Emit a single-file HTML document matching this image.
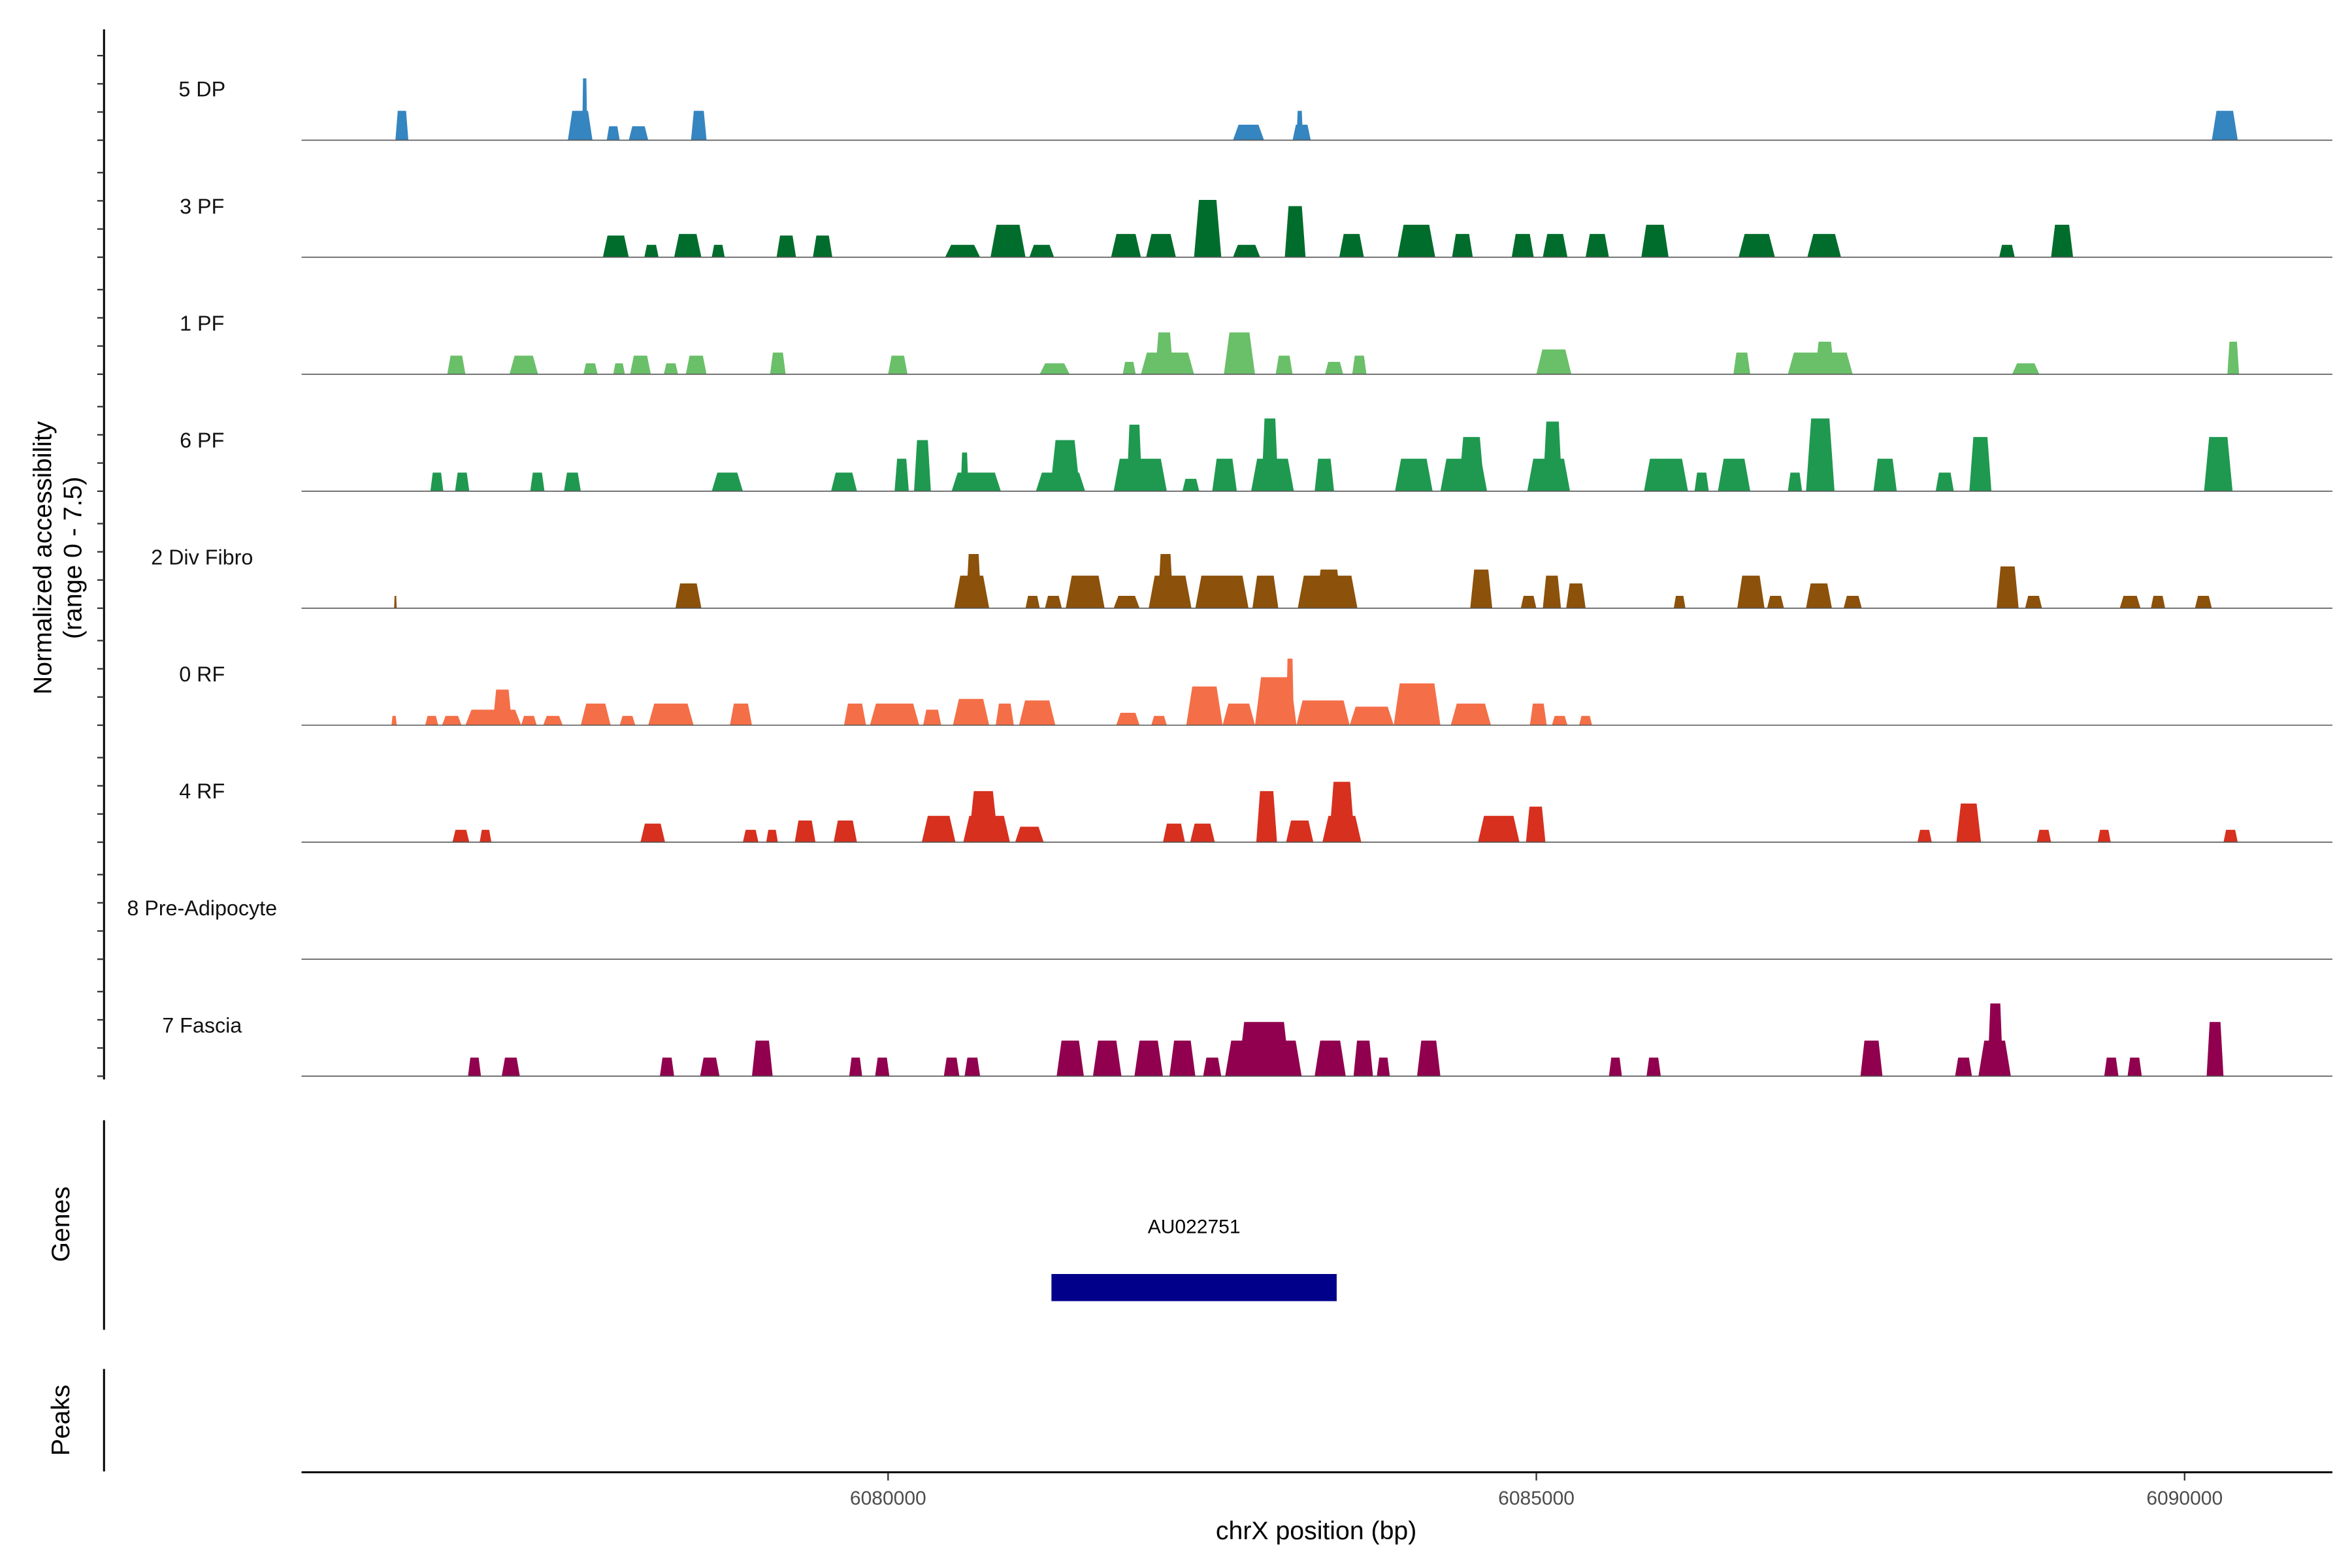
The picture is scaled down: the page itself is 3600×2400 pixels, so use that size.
<!DOCTYPE html>
<html><head><meta charset="utf-8"><style>
html,body{margin:0;padding:0;background:#fff;}
svg{display:block;font-family:"Liberation Sans",Arial,sans-serif;}
</style></head><body>
<svg id="chart" width="3600" height="2400" viewBox="0 0 1560 1040" xmlns="http://www.w3.org/2000/svg">
<rect x="0" y="0" width="1560" height="1040" fill="#fff"/>
<g id="tracks"></g>
<line x1="69" y1="19.5" x2="69" y2="716" stroke="#000" stroke-width="1.3"/>
<g id="yticks"></g>
<text transform="translate(34,370) rotate(-90)" text-anchor="middle" font-size="17" fill="#000">Normalized accessibility</text>
<text transform="translate(54,370) rotate(-90)" text-anchor="middle" font-size="17" fill="#000">(range 0 - 7.5)</text>
<line x1="69" y1="743" x2="69" y2="882" stroke="#000" stroke-width="1.3"/>
<text transform="translate(46,812) rotate(-90)" text-anchor="middle" font-size="17" fill="#000">Genes</text>
<g id="genes"></g>
<line x1="69" y1="908" x2="69" y2="976" stroke="#000" stroke-width="1.3"/>
<text transform="translate(46,942) rotate(-90)" text-anchor="middle" font-size="17" fill="#000">Peaks</text>
<line x1="200" y1="976.5" x2="1547" y2="976.5" stroke="#000" stroke-width="1.3"/>
<g id="xticks"></g>
<text x="873" y="1021" text-anchor="middle" font-size="17" fill="#000">chrX position (bp)</text>
</svg>
<script>
const trackNames = ["5 DP","3 PF","1 PF","6 PF","2 Div Fibro","0 RF","4 RF","8 Pre-Adipocyte","7 Fascia"];
const trackColors = ["#3585c0","#006d2c","#6abf69","#1f9950","#8c510a","#f46f47","#d7301f","#888888","#91004f"];
const xTicks = [6080000,6085000,6090000];
const geneNames = ["AU022751"];
const geneStarts = [6081260];
const geneEnds = [6083460];
// peaks per track: [start bp, end bp, normalized accessibility]
const peaksDP = [[6076200,6076300,1.9],[6077530,6077720,1.9],[6077640,6077680,4.0],[6077830,6077930,0.9],[6078000,6078150,0.9],[6078480,6078600,1.9],[6082660,6082900,1.0],[6083120,6083260,1.0],[6083150,6083200,1.9],[6090210,6090410,1.9]];
const peaksPF3 = [[6077800,6078000,1.4],[6078120,6078230,0.8],[6078350,6078560,1.5],[6078640,6078740,0.8],[6079140,6079290,1.4],[6079420,6079570,1.4],[6080440,6080710,0.8],[6080790,6081060,2.1],[6081090,6081280,0.8],[6081720,6081950,1.5],[6081990,6082220,1.5],[6082360,6082570,3.7],[6082660,6082870,0.8],[6083060,6083220,3.3],[6083480,6083670,1.5],[6083930,6084220,2.1],[6084350,6084510,1.5],[6084810,6084980,1.5],[6085050,6085240,1.5],[6085380,6085560,1.5],[6085810,6086020,2.1],[6086560,6086840,1.5],[6087090,6087350,1.5],[6088570,6088690,0.8],[6088970,6089140,2.1]];
const peaksPF1 = [[6076600,6076740,1.2],[6077080,6077300,1.2],[6077650,6077760,0.7],[6077880,6077970,0.7],[6078010,6078170,1.2],[6078270,6078380,0.7],[6078440,6078600,1.2],[6079090,6079210,1.4],[6080000,6080150,1.2],[6081170,6081400,0.7],[6081810,6081910,0.8],[6081950,6082360,1.4],[6082060,6082200,2.7],[6082590,6082830,2.7],[6082990,6083120,1.2],[6083370,6083510,0.8],[6083580,6083690,1.2],[6085000,6085270,1.6],[6086520,6086650,1.4],[6086940,6087440,1.4],[6087150,6087300,2.1],[6088670,6088880,0.7],[6090330,6090420,2.1]];
const peaksPF6 = [[6076470,6076570,1.2],[6076660,6076770,1.2],[6077240,6077350,1.2],[6077500,6077630,1.2],[6078640,6078880,1.2],[6079560,6079760,1.2],[6080050,6080160,2.1],[6080200,6080330,3.3],[6080490,6080870,1.2],[6080560,6080620,2.5],[6081140,6081520,1.2],[6081250,6081480,3.3],[6081740,6082150,2.1],[6081840,6081960,4.3],[6082270,6082400,0.8],[6082500,6082690,2.1],[6082800,6083130,2.1],[6082880,6083010,4.7],[6083290,6083440,2.1],[6083910,6084200,2.1],[6084260,6084620,2.1],[6084400,6084600,3.5],[6084930,6085260,2.1],[6085050,6085200,4.5],[6085830,6086170,2.1],[6086220,6086330,1.2],[6086400,6086650,2.1],[6086940,6087050,1.2],[6087080,6087300,4.7],[6087600,6087780,2.1],[6088080,6088220,1.2],[6088340,6088510,3.5],[6090150,6090370,3.5]];
const peaksDiv = [[6076190,6076210,0.8],[6078360,6078560,1.6],[6080510,6080780,2.1],[6080600,6080720,3.5],[6081060,6081170,0.8],[6081210,6081340,0.8],[6081370,6081670,2.1],[6081740,6081940,0.8],[6082010,6082340,2.1],[6082080,6082200,3.5],[6082370,6082780,2.1],[6082810,6083010,2.1],[6083160,6083620,2.1],[6083300,6083500,2.5],[6084490,6084660,2.5],[6084880,6085000,0.8],[6085050,6085190,2.1],[6085230,6085380,1.6],[6086060,6086150,0.8],[6086550,6086760,2.1],[6086780,6086910,0.8],[6087080,6087280,1.6],[6087370,6087510,0.8],[6088550,6088720,2.7],[6088770,6088900,0.8],[6089500,6089660,0.8],[6089740,6089850,0.8],[6090080,6090210,0.8]];
const peaksRF0 = [[6076170,6076210,0.6],[6076430,6076530,0.6],[6076560,6076710,0.6],[6076740,6077170,1.0],[6076950,6077100,2.3],[6077170,6077290,0.6],[6077340,6077490,0.6],[6077630,6077860,1.4],[6077930,6078050,0.6],[6078150,6078500,1.4],[6078780,6078950,1.4],[6079660,6079830,1.4],[6079860,6080240,1.4],[6080270,6080410,1.0],[6080500,6080780,1.7],[6080830,6080970,1.4],[6081010,6081290,1.6],[6081760,6081940,0.8],[6082030,6082150,0.6],[6082300,6082580,2.5],[6082580,6082830,1.4],[6082830,6083150,3.1],[6083070,6083130,4.3],[6083150,6083560,1.6],[6083560,6083900,1.2],[6083900,6084260,2.7],[6084340,6084650,1.4],[6084950,6085080,1.4],[6085120,6085240,0.6],[6085330,6085430,0.6]];
const peaksRF4 = [[6076640,6076770,0.8],[6076850,6076940,0.8],[6078090,6078280,1.2],[6078880,6079000,0.8],[6079060,6079150,0.8],[6079280,6079440,1.4],[6079580,6079760,1.4],[6080260,6080520,1.7],[6080580,6080940,1.7],[6080620,6080850,3.3],[6080980,6081200,1.0],[6082120,6082290,1.2],[6082330,6082520,1.2],[6082840,6083000,3.3],[6083070,6083280,1.4],[6083350,6083650,1.7],[6083400,6083600,3.9],[6084550,6084870,1.7],[6084920,6085070,2.3],[6087940,6088050,0.8],[6088240,6088430,2.5],[6088860,6088970,0.8],[6089330,6089430,0.8],[6090300,6090410,0.8]];
const peaksPre = [];
const peaksFascia = [[6076760,6076860,1.2],[6077020,6077160,1.2],[6078240,6078350,1.2],[6078550,6078700,1.2],[6078950,6079110,2.3],[6079700,6079800,1.2],[6079900,6080010,1.2],[6080430,6080550,1.2],[6080590,6080710,1.2],[6081300,6081510,2.3],[6081580,6081800,2.3],[6081900,6082120,2.3],[6082170,6082370,2.3],[6082430,6082570,1.2],[6082600,6083190,2.3],[6082700,6083100,3.5],[6083290,6083530,2.3],[6083590,6083740,2.3],[6083770,6083870,1.2],[6084080,6084260,2.3],[6085560,6085660,1.2],[6085850,6085960,1.2],[6087500,6087670,2.3],[6088230,6088360,1.2],[6088410,6088660,2.3],[6088480,6088600,4.7],[6089380,6089490,1.2],[6089560,6089670,1.2],[6090170,6090300,3.5]];
const trackPeaks = [peaksDP,peaksPF3,peaksPF1,peaksPF6,peaksDiv,peaksRF0,peaksRF4,peaksPre,peaksFascia];

const NS = "http://www.w3.org/2000/svg";
const X0 = 200, X1 = 1547, BP0 = 6075476, BP1 = 6091140;
function xScale(bp){ return X0 + (bp - BP0) / (BP1 - BP0) * (X1 - X0); }
const TOP = 16, STEP = 77.6, YMAX = 7.5, HPX = 77;
function baseY(i){ return TOP + STEP * (i + 1) - 0.6; }
function yScale(i, v){ return baseY(i) - v / YMAX * HPX; }

const tracksG = document.getElementById('tracks');
const ticksG = document.getElementById('yticks');
trackNames.forEach((name, i) => {
  const g = document.createElementNS(NS, 'g');
  
  
  tracksG.appendChild(g);
  const b = baseY(i);
  trackPeaks[i].forEach(p => {
    const xa = xScale(p[0]), xb = xScale(p[1]);
    const w = xb - xa, r = Math.min(w * 0.18, 4);
    const yt = yScale(i, p[2]);
    const poly = document.createElementNS(NS, 'polygon');
    poly.setAttribute('points', `${xa},${b} ${xa + r},${yt} ${xb - r},${yt} ${xb},${b}`);
    poly.setAttribute('fill', trackColors[i]);
    
    
    g.appendChild(poly);
  });
  const ln = document.createElementNS(NS, 'line');
  ln.setAttribute('x1', X0); ln.setAttribute('x2', X1);
  ln.setAttribute('y1', b); ln.setAttribute('y2', b);
  ln.setAttribute('stroke', '#555'); ln.setAttribute('stroke-width', '0.7');
  
  
  g.appendChild(ln);
  const t = document.createElementNS(NS, 'text');
  t.setAttribute('x', 134); t.setAttribute('y', b - 29);
  t.setAttribute('text-anchor', 'middle'); t.setAttribute('font-size', '14');
  t.setAttribute('fill', '#111');
  
  
  t.textContent = name;
  g.appendChild(t);
  for (let k = 0; k < 4; k++) {
    const ty = b - k * 18.7;
    const tk = document.createElementNS(NS, 'line');
    tk.setAttribute('x1', 64.5); tk.setAttribute('x2', 69);
    tk.setAttribute('y1', ty); tk.setAttribute('y2', ty);
    tk.setAttribute('stroke', '#333'); tk.setAttribute('stroke-width', '1');
    
    
    ticksG.appendChild(tk);
  }
});

const genesG = document.getElementById('genes');
geneNames.forEach((n, i) => {
  const xa = xScale(geneStarts[i]), xb = xScale(geneEnds[i]);
  const r = document.createElementNS(NS, 'rect');
  r.setAttribute('x', xa); r.setAttribute('y', 845);
  r.setAttribute('width', xb - xa); r.setAttribute('height', 18);
  r.setAttribute('fill', '#00008b');
  
  
  genesG.appendChild(r);
  const t = document.createElementNS(NS, 'text');
  t.setAttribute('x', (xa + xb) / 2); t.setAttribute('y', 818);
  t.setAttribute('text-anchor', 'middle'); t.setAttribute('font-size', '13');
  t.setAttribute('fill', '#000');
  
  
  t.textContent = n;
  genesG.appendChild(t);
});

const xg = document.getElementById('xticks');
xTicks.forEach(v => {
  const x = xScale(v);
  const tk = document.createElementNS(NS, 'line');
  tk.setAttribute('x1', x); tk.setAttribute('x2', x);
  tk.setAttribute('y1', 977); tk.setAttribute('y2', 982);
  tk.setAttribute('stroke', '#333'); tk.setAttribute('stroke-width', '1');
  
  
  xg.appendChild(tk);
  const t = document.createElementNS(NS, 'text');
  t.setAttribute('x', x); t.setAttribute('y', 998);
  t.setAttribute('text-anchor', 'middle'); t.setAttribute('font-size', '13');
  t.setAttribute('fill', '#4d4d4d');
  
  
  t.textContent = String(v);
  xg.appendChild(t);
});
</script>
</body></html>
